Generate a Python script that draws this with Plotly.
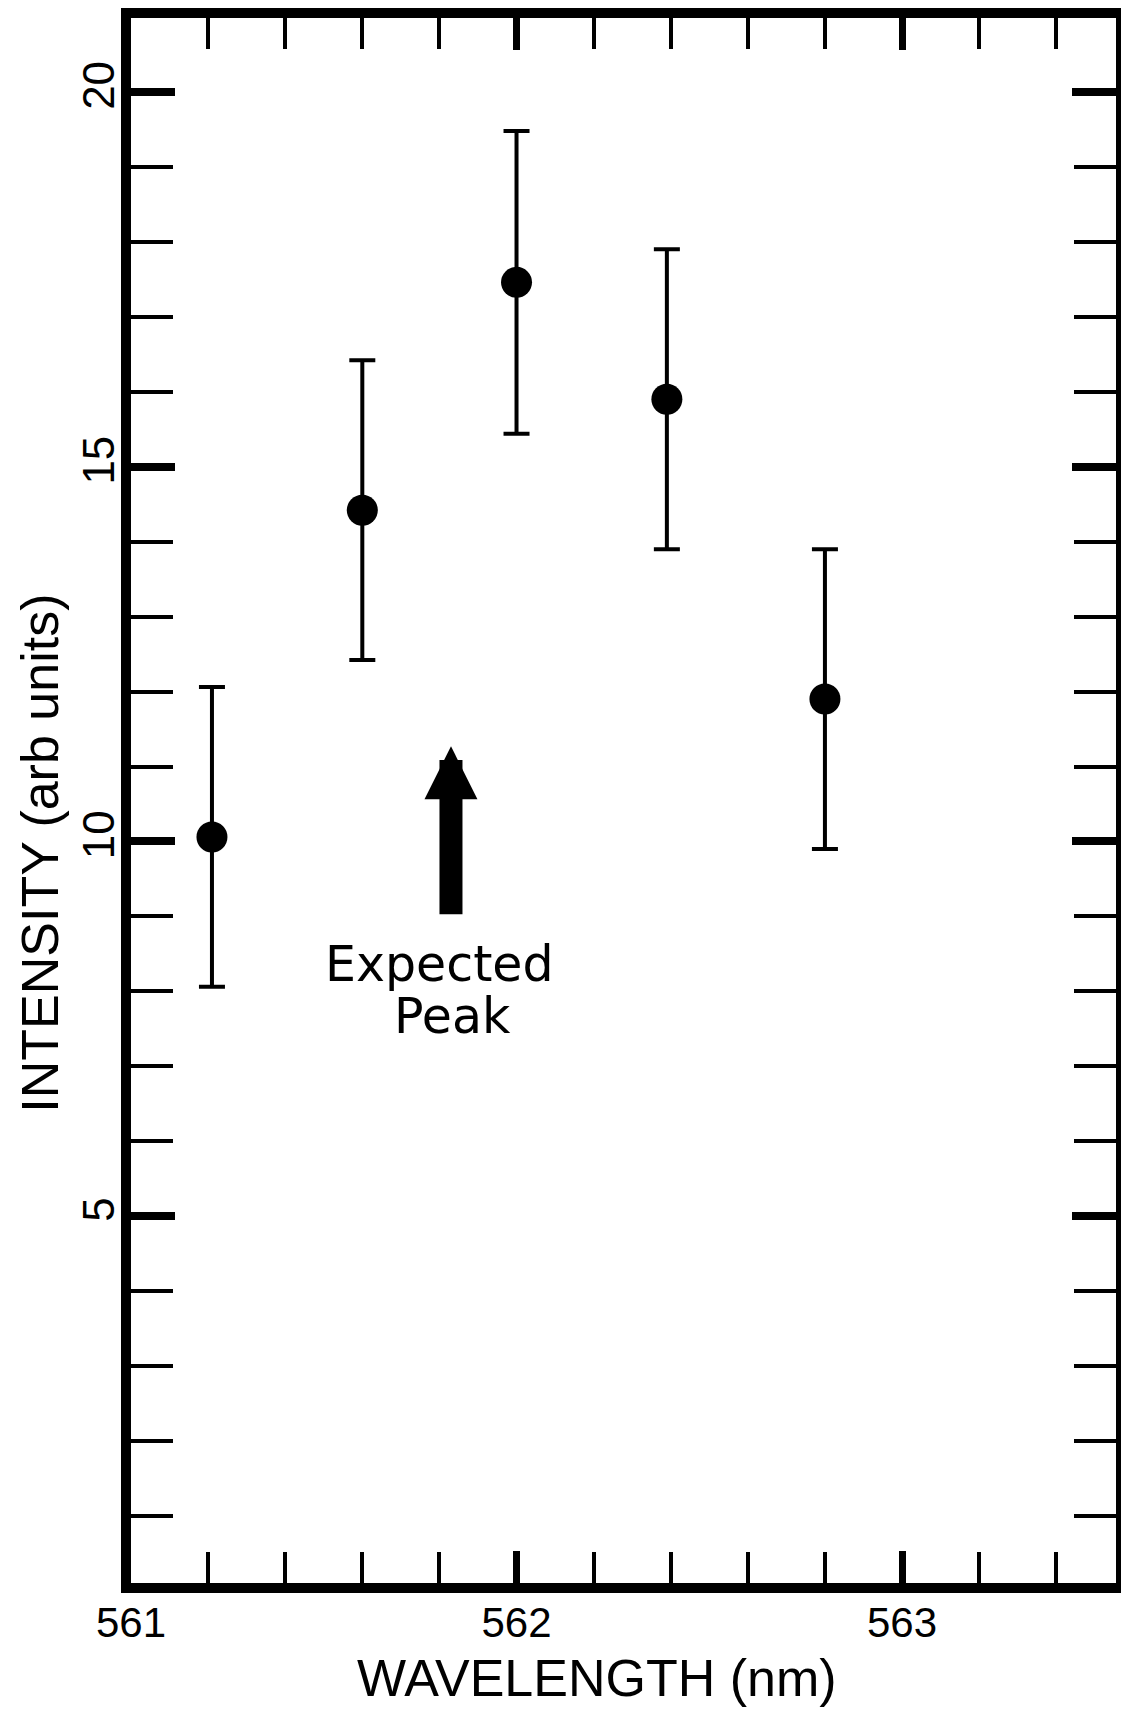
import plotly.graph_objects as go

# Data
wavelength = [561.21, 561.6, 562.0, 562.39, 562.8]
intensity = [10.06, 14.42, 17.46, 15.9, 11.9]
error = [2.0, 2.0, 2.02, 2.0, 2.0]

x_tickvals = [561, 562, 563]
x_ticktext = ["561", "562", "563"]
y_tickvals = [5, 10, 15, 20]
y_ticktext = ["5", "10", "15", "20"]

arrow_x = 561.83
arrow_tail = 9.01
arrow_tip = 11.27

x_range = [561.0, 563.555]
y_range = [0.106, 20.987]

FONT = "Liberation Sans, Arial, Helvetica, sans-serif"
FONT_WIDE = "DejaVu Sans, Liberation Sans, sans-serif"

fig = go.Figure()
fig.add_trace(go.Scatter(
    x=wavelength, y=intensity, mode="markers",
    marker=dict(color="black", size=31, symbol="circle"),
    error_y=dict(type="data", array=error, visible=True,
                 color="black", thickness=4, width=13),
    showlegend=False, hoverinfo="skip",
))

# Expected peak arrow
fig.add_annotation(
    x=arrow_x, y=arrow_tip, ax=arrow_x, ay=arrow_tail,
    xref="x", yref="y", axref="x", ayref="y",
    showarrow=True, arrowhead=2, arrowsize=0.46, arrowwidth=23,
    arrowcolor="black", text="",
)
fig.add_annotation(x=561.80, y=8.36, xref="x", yref="y", text="Expected",
                   showarrow=False, font=dict(family=FONT_WIDE, size=49, color="black"))
fig.add_annotation(x=561.835, y=7.67, xref="x", yref="y", text="Peak",
                   showarrow=False, font=dict(family=FONT_WIDE, size=49, color="black"))

# Axis titles
fig.add_annotation(x=0.473, y=0, xref="paper", yref="paper", yshift=-95,
                   xanchor="center", yanchor="middle", text="WAVELENGTH (nm)",
                   showarrow=False, font=dict(family=FONT, size=52, color="black"))
fig.add_annotation(x=0, y=0.466, xref="paper", yref="paper", xshift=-91,
                   xanchor="center", yanchor="middle", text="INTENSITY (arb units)",
                   textangle=-90, showarrow=False,
                   font=dict(family=FONT, size=52, color="black"))

fig.update_xaxes(
    range=x_range, showgrid=False, zeroline=False,
    showline=True, linecolor="black", linewidth=10, mirror="allticks",
    ticks="inside", tickvals=x_tickvals, ticktext=x_ticktext,
    ticklen=32, tickwidth=7, tickcolor="black", ticklabelstandoff=-6,
    tickfont=dict(family=FONT, size=42, color="black"),
    minor=dict(ticks="inside", dtick=0.2, tick0=561, ticklen=31, tickwidth=3.5,
               tickcolor="black", showgrid=False),
)
fig.update_yaxes(
    range=y_range, showgrid=False, zeroline=False,
    showline=True, linecolor="black", linewidth=10, mirror="allticks",
    ticks="inside", tickvals=y_tickvals, ticktext=y_ticktext,
    ticklen=44, tickwidth=8, tickcolor="black", tickangle=-90,
    ticklabelstandoff=-11,
    tickfont=dict(family=FONT, size=44, color="black"),
    minor=dict(ticks="inside", dtick=1, tick0=0, ticklen=42, tickwidth=3.5,
               tickcolor="black", showgrid=False),
)

fig.update_layout(
    width=1129, height=1711,
    margin=dict(l=123, r=20.6, t=0, b=135.5),
    paper_bgcolor="white", plot_bgcolor="white",
    font=dict(family=FONT, color="black"),
)

fig.write_html("out.html")
